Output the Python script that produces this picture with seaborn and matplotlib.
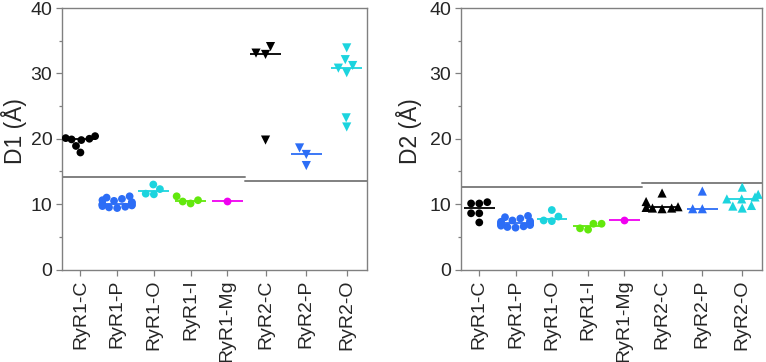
"""Two-panel D1 / D2 distance swarm plot for RyR1 and RyR2 states."""

import matplotlib
matplotlib.use("Agg")
import matplotlib.pyplot as plt
import numpy as np
import pandas as pd
import seaborn as sns
from matplotlib.ticker import MultipleLocator

# ---- data ------------------------------------------------------------------
groups = ["RyR1-C", "RyR1-P", "RyR1-O", "RyR1-I", "RyR1-Mg", "RyR2-C", "RyR2-P", "RyR2-O"]
colors = ["#000000", "#2C6DF6", "#1CD4DE", "#62E80C", "#F000F0",
          "#000000", "#2C6DF6", "#1CD4DE"]

d1_r1c = [20.0, 20.4, 20.1, 19.8, 19.9, 18.9, 17.9]
d1_r1p = [11.0, 11.2, 10.8, 10.5, 10.2, 10.0, 9.9, 9.8, 9.7, 9.6, 9.5, 9.4, 10.3, 10.6, 9.9]
d1_r1o = [13.0, 11.6, 12.3, 11.5]
d1_r1i = [10.6, 11.2, 10.4, 10.1]
d1_r1mg = [10.5]
d1_r2c = [34.1, 33.1, 32.9, 19.8]
d1_r2p = [18.6, 17.6, 15.9]
d1_r2o = [33.9, 32.1, 31.2, 30.8, 30.1, 23.2, 21.8]

d2_r1c = [10.1, 10.3, 10.1, 8.6, 8.6, 7.2]
d2_r1p = [7.0, 7.2, 6.8, 7.5, 7.8, 8.2, 6.5, 6.9, 7.1, 7.3, 6.7, 7.0, 7.4, 6.6, 8.0, 6.4]
d2_r1o = [7.5, 9.1, 7.4, 8.1]
d2_r1i = [6.1, 6.3, 7.0, 7.0]
d2_r1mg = [7.6]
d2_r2c = [11.7, 10.4, 9.6, 9.4, 9.4, 9.3, 9.5]
d2_r2p = [12.0, 9.3, 9.3]
d2_r2o = [12.6, 11.5, 10.8, 10.8, 11.1, 9.7, 9.4, 9.8]

# grey reference lines: (RyR1 level, RyR2 level)
d1_thresholds = [14.1, 13.5]
d2_thresholds = [12.6, 13.2]

d1_sets = [d1_r1c, d1_r1p, d1_r1o, d1_r1i, d1_r1mg, d1_r2c, d1_r2p, d1_r2o]
d2_sets = [d2_r1c, d2_r1p, d2_r1o, d2_r1i, d2_r1mg, d2_r2c, d2_r2p, d2_r2o]

# category positions on the axis (RyR2 ticks sit a bit wider apart in the original)
xpos = [0, 1, 2, 3, 4, 5.04, 6.15, 7.25]

sns.set_theme(style="white")
plt.rcParams["font.family"] = ["Liberation Sans", "DejaVu Sans"]
GREY = "#808080"


def _long(sets):
    rows = []
    for g, p, vals in zip(groups, xpos, sets):
        rows += [{"group": g, "pos": p, "value": v} for v in vals]
    return pd.DataFrame(rows)


def _panel(ax, sets, thresholds, ylabel, r2_marker, label_x):
    df = _long(sets)
    pal = dict(zip(groups, colors))
    r1 = df[df["group"].str.startswith("RyR1")]
    r2 = df[df["group"].str.startswith("RyR2")]
    sns.swarmplot(data=r1, x="pos", y="value", hue="group", palette=pal, ax=ax,
                  native_scale=True, orient="x", size=5.6, legend=False, zorder=3)
    sns.swarmplot(data=r2, x="pos", y="value", hue="group", palette=pal, ax=ax,
                  native_scale=True, orient="x", size=6.6, marker=r2_marker,
                  legend=False, zorder=3)
    # median bars
    for p, vals, c in zip(xpos, sets, colors):
        ax.hlines(np.median(vals), p - 0.42, p + 0.42, color=c, lw=1.3, zorder=2)
    # grey threshold lines, RyR1 block then RyR2 block
    split = 4.48
    ax.plot([-0.5, split], [thresholds[0]] * 2, color=GREY, lw=1.4, zorder=1)
    ax.plot([split, 7.8], [thresholds[1]] * 2, color=GREY, lw=1.4, zorder=1)

    ax.set_xlim(-0.5, 7.8)
    ax.set_ylim(0, 40)
    ax.yaxis.set_major_locator(MultipleLocator(10))
    ax.yaxis.set_minor_locator(MultipleLocator(5))
    ax.set_xticks(xpos)
    ax.set_xticklabels(groups, rotation=90, fontsize=14)
    ax.tick_params(axis="y", labelsize=14)
    ax.tick_params(which="major", direction="out", length=4, width=0.9, color=GREY,
                   bottom=True, left=True, pad=3)
    ax.tick_params(which="minor", axis="y", direction="out", length=2, width=0.9,
                   color=GREY, left=True)
    for s in ax.spines.values():
        s.set_color(GREY)
        s.set_linewidth(1.0)
    ax.set_xlabel("")
    ax.set_ylabel(ylabel, fontsize=16.5)
    ax.yaxis.set_label_coords(label_x, 0.53)


fig = plt.figure(figsize=(7.66, 3.62), dpi=100)
ax1 = fig.add_axes([0.081, 0.2555, 0.398, 0.7224])
ax2 = fig.add_axes([0.602, 0.2555, 0.393, 0.7224])
_panel(ax1, d1_sets, d1_thresholds, "D1 (Å)", "v", -0.115)
_panel(ax2, d2_sets, d2_thresholds, "D2 (Å)", "^", -0.13)

fig.savefig("out.png", dpi=100)
